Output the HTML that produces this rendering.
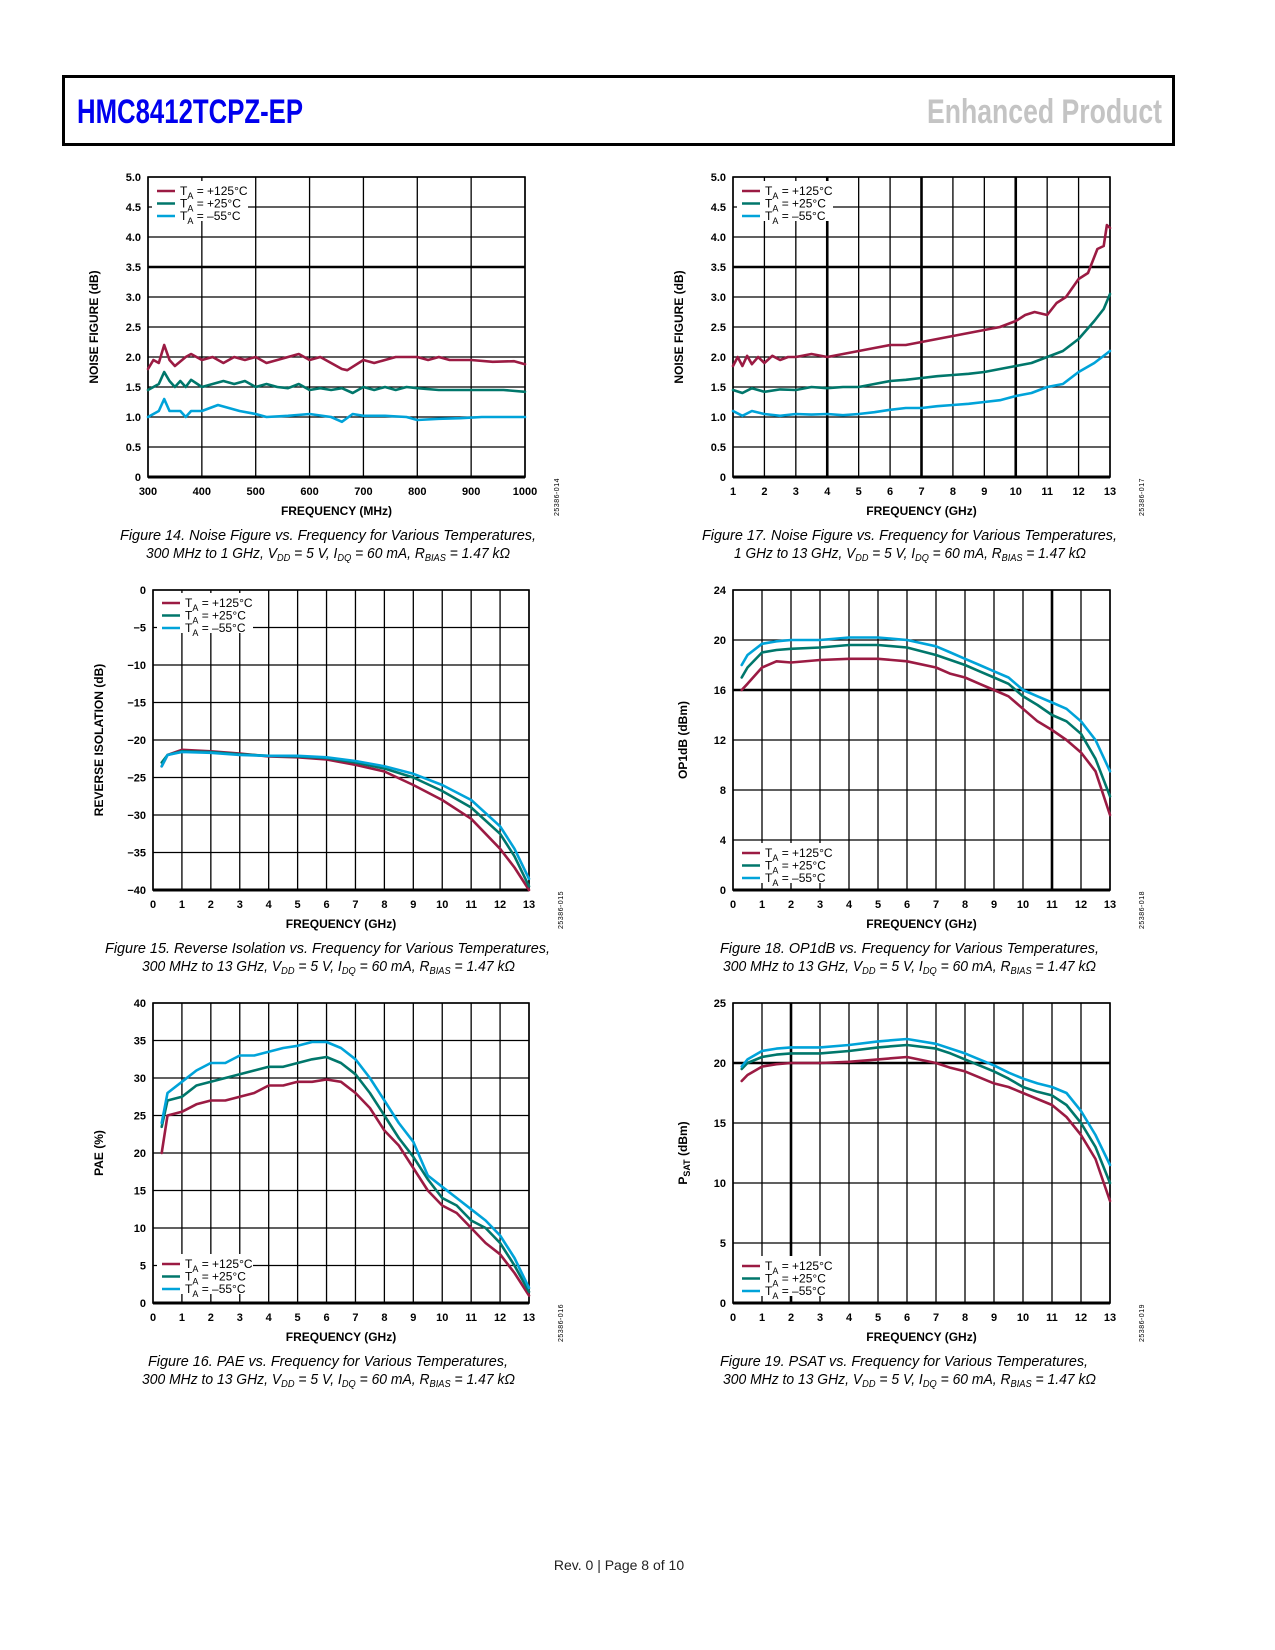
<!DOCTYPE html>
<html><head><meta charset="utf-8"><style>
html,body{margin:0;padding:0;background:#fff}
svg{display:block}
text{font-family:"Liberation Sans",sans-serif}
</style></head><body>
<svg id="page" width="1275" height="1650" viewBox="0 0 1275 1650" xmlns="http://www.w3.org/2000/svg">
<rect x="63.5" y="76.5" width="1110" height="68" fill="none" stroke="#000" stroke-width="3"/>
<text x="77" y="123" font-size="34" font-weight="bold" fill="#0000ee" textLength="226" lengthAdjust="spacingAndGlyphs">HMC8412TCPZ-EP</text>
<text x="927" y="123" font-size="34" font-weight="bold" fill="#c4c4c4" textLength="235" lengthAdjust="spacingAndGlyphs">Enhanced Product</text>
<text x="619" y="1570" font-size="14" text-anchor="middle" fill="#222">Rev. 0 | Page 8 of 10</text>
<g id="charts"></g>
</svg>
<script>
// ---- Fig 14: NF 300 MHz-1 GHz ----
const f14x_red=[300,310,320,330,340,350,370,380,400,420,440,460,480,500,520,540,560,580,600,620,640,660,670,700,720,740,760,800,820,840,860,900,940,980,1000];
const f14y_red=[1.8,1.95,1.9,2.2,1.95,1.85,2.0,2.05,1.95,2.0,1.9,2.0,1.95,2.0,1.9,1.95,2.0,2.05,1.95,2.0,1.9,1.8,1.78,1.95,1.9,1.95,2.0,2.0,1.95,2.0,1.95,1.95,1.92,1.93,1.88];
const f14x_teal=[300,320,330,340,350,360,370,380,400,420,440,460,480,500,520,540,560,580,600,620,640,660,680,700,720,740,760,780,800,840,880,920,960,1000];
const f14y_teal=[1.45,1.55,1.75,1.6,1.5,1.6,1.5,1.62,1.5,1.55,1.6,1.55,1.6,1.5,1.55,1.5,1.48,1.55,1.45,1.48,1.45,1.48,1.4,1.5,1.45,1.5,1.45,1.5,1.48,1.45,1.45,1.45,1.45,1.42];
const f14x_cyan=[300,320,330,340,360,370,380,400,430,450,470,500,520,560,600,640,660,680,700,740,780,800,840,880,920,960,1000];
const f14y_cyan=[1.0,1.1,1.3,1.1,1.1,1.0,1.1,1.1,1.2,1.15,1.1,1.05,1.0,1.02,1.05,1.0,0.92,1.05,1.02,1.02,1.0,0.95,0.97,0.98,1.0,1.0,1.0];
// ---- Fig 17: NF 1-13 GHz ----
const f17x_red=[1,1.15,1.3,1.45,1.6,1.8,2,2.25,2.5,2.75,3,3.5,4,4.5,5,5.5,6,6.5,7,7.5,8,8.5,9,9.5,10,10.3,10.6,11,11.3,11.6,12,12.3,12.6,12.8,12.9,13];
const f17y_red=[1.85,2.0,1.85,2.02,1.88,2.0,1.9,2.02,1.95,2.0,2.0,2.05,2.0,2.05,2.1,2.15,2.2,2.2,2.25,2.3,2.35,2.4,2.45,2.5,2.6,2.7,2.75,2.7,2.9,3.0,3.3,3.4,3.8,3.85,4.2,4.15];
const f17x_teal=[1,1.3,1.6,2,2.5,3,3.5,4,4.5,5,5.5,6,6.5,7,7.5,8,8.5,9,9.5,10,10.5,11,11.5,12,12.5,12.8,13];
const f17y_teal=[1.45,1.4,1.48,1.42,1.46,1.45,1.5,1.48,1.5,1.5,1.55,1.6,1.62,1.65,1.68,1.7,1.72,1.75,1.8,1.85,1.9,2.0,2.1,2.3,2.6,2.8,3.05];
const f17x_cyan=[1,1.3,1.6,2,2.5,3,3.5,4,4.5,5,5.5,6,6.5,7,7.5,8,8.5,9,9.5,10,10.5,11,11.5,12,12.5,13];
const f17y_cyan=[1.1,1.02,1.1,1.05,1.02,1.05,1.04,1.05,1.03,1.05,1.08,1.12,1.15,1.15,1.18,1.2,1.22,1.25,1.28,1.35,1.4,1.5,1.55,1.75,1.9,2.1];
// ---- Fig 15: reverse isolation ----
const f15x=[0.3,0.5,1,2,3,4,5,6,7,8,9,10,11,12,12.5,13];
const f15y_red=[-23.5,-22,-21.3,-21.5,-21.8,-22.2,-22.3,-22.6,-23.3,-24.2,-26,-28,-30.5,-34.5,-37,-40];
const f15y_teal=[-23,-22,-21.5,-21.6,-21.9,-22.1,-22.2,-22.4,-23,-23.8,-25,-26.8,-29,-32.5,-35.5,-39.5];
const f15y_cyan=[-23.5,-22,-21.6,-21.7,-22,-22.1,-22.1,-22.3,-22.8,-23.5,-24.5,-26,-28,-31.5,-34.5,-38.5];
// ---- Fig 16: PAE ----
const f16x=[0.3,0.5,1,1.5,2,2.5,3,3.5,4,4.5,5,5.5,6,6.5,7,7.5,8,8.5,9,9.5,10,10.5,11,11.5,12,12.5,13];
const f16y_red=[20,25,25.5,26.5,27,27,27.5,28,29,29,29.5,29.5,29.8,29.5,28,26,23,21,18,15,13,12,10,8,6.5,4,1];
const f16y_teal=[23.5,27,27.5,29,29.5,30,30.5,31,31.5,31.5,32,32.5,32.8,32,30.5,28,25,22,19.5,16.5,14,13,11,10,8,5,1.5];
const f16y_cyan=[24,28,29.5,31,32,32,33,33,33.5,34,34.3,34.8,34.8,34,32.5,30,27,24,21.5,17,15.5,14,12.5,11,9,6,2];
// ---- Fig 18: OP1dB ----
const f18x=[0.3,0.5,1,1.5,2,3,4,5,6,7,7.5,8,8.5,9,9.5,10,10.5,11,11.5,12,12.5,13];
const f18y_red=[16,16.5,17.8,18.3,18.2,18.4,18.5,18.5,18.3,17.8,17.3,17,16.5,16,15.5,14.5,13.5,12.8,12,11,9.5,6];
const f18y_teal=[17,17.8,19,19.2,19.3,19.4,19.6,19.6,19.4,18.8,18.4,18,17.5,17,16.5,15.5,14.8,14,13.5,12.5,10.5,7.5];
const f18y_cyan=[18,18.8,19.7,19.9,20,20,20.2,20.2,20,19.5,19,18.5,18,17.5,17,16,15.5,15,14.5,13.5,12,9.5];
// ---- Fig 19: PSAT ----
const f19x=[0.3,0.5,1,1.5,2,3,4,5,6,7,7.5,8,8.5,9,9.5,10,10.5,11,11.5,12,12.5,13];
const f19y_red=[18.5,19,19.7,19.9,20,20,20.1,20.3,20.5,20,19.6,19.3,18.8,18.3,18,17.5,17,16.5,15.5,14,12,8.5];
const f19y_teal=[19.5,20,20.5,20.7,20.8,20.8,21,21.3,21.5,21.2,20.8,20.3,19.8,19.3,18.7,18,17.6,17.3,16.5,15,13,10];
const f19y_cyan=[19.7,20.3,21,21.2,21.3,21.3,21.5,21.8,22,21.6,21.2,20.8,20.3,19.8,19.2,18.7,18.3,18,17.5,16,14,11.5];

const RED="#9b1b43",TEAL="#00776b",CYAN="#00a3d9";
const NS="http://www.w3.org/2000/svg";
const root=document.getElementById('charts');
function mk(tag,attrs,parent){const e=document.createElementNS(NS,tag);for(const k in attrs)e.setAttribute(k,attrs[k]);(parent||root).appendChild(e);return e;}

function chart(c){
  const g=mk('g',{});
  
  
  const sx=v=>c.L+(v-c.xmin)/(c.xmax-c.xmin)*(c.R-c.L);
  const sy=v=>c.B-(v-c.ymin)/(c.ymax-c.ymin)*(c.B-c.T);
  // grid
  c.xgrid.forEach(v=>{const l=mk('line',{x1:sx(v),x2:sx(v),y1:c.T,y2:c.B,stroke:'#000','stroke-width':c.thickX.includes(v)?2.6:1.3},g);
    });
  c.ygrid.forEach(v=>{const l=mk('line',{x1:c.L,x2:c.R,y1:sy(v),y2:sy(v),stroke:'#000','stroke-width':c.thickY.includes(v)?2.6:1.3},g);
    });
  const fr=mk('rect',{x:c.L,y:c.T,width:c.R-c.L,height:c.B-c.T,fill:'none',stroke:'#000','stroke-width':1.6},g);
  
  const bl=mk('line',{x1:c.L,x2:c.R,y1:c.B,y2:c.B,stroke:'#000','stroke-width':3},g);
  
  // ticks
  c.xticks.forEach((v,i)=>{const t=mk('text',{x:sx(v),y:c.B+18,'font-size':11,'font-weight':'bold','text-anchor':'middle'},g);t.textContent=c.xlabels[i];
    });
  c.yticks.forEach((v,i)=>{const t=mk('text',{x:c.L-7,y:sy(v)+4,'font-size':11,'font-weight':'bold','text-anchor':'end'},g);t.textContent=c.ylabels[i];
    });
  const xt=mk('text',{x:(c.L+c.R)/2,y:c.B+38,'font-size':12,'font-weight':'bold','text-anchor':'middle'},g);xt.textContent=c.xtitle;
  
  const yt=mk('text',{x:0,y:0,'font-size':12,'font-weight':'bold','text-anchor':'middle',transform:`translate(${c.ytx},${(c.T+c.B)/2}) rotate(-90)`},g);
  yt.innerHTML=c.ytitle;
  
  const id=mk('text',{x:0,y:0,'font-size':7,'text-anchor':'middle','letter-spacing':'0.5',transform:`translate(${c.R+34},${c.B+20}) rotate(-90)`},g);id.textContent=c.figid;
  
  // series
  const cols=[RED,TEAL,CYAN];
  c.series.forEach((s,k)=>{
    const d=s.x.map((v,i)=>(i?'L':'M')+sx(v).toFixed(1)+' '+sy(s.y[i]).toFixed(1)).join(' ');
    const p=mk('path',{d:d,fill:'none',stroke:cols[k],'stroke-width':2.6,'stroke-linejoin':'round','stroke-linecap':'round'},g);
    
    
  });
  // legend
  const lg=mk('g',{},g);
  
  if(c.legBg) mk('rect',{x:c.L+4,y:c.legY-10,width:96,height:40,fill:'#fff'},lg);
  const labs=['+125°C','+25°C','–55°C'];
  labs.forEach((lab,k)=>{
    const y=c.legY+k*12.5;
    const ln=mk('line',{x1:c.L+9,x2:c.L+27,y1:y,y2:y,stroke:cols[k],'stroke-width':2.6},lg);
    
    const t=mk('text',{x:c.L+32,y:y+4,'font-size':12},lg);
    t.innerHTML=`T<tspan font-size="9" dy="4">A</tspan><tspan dy="-4"> = ${lab}</tspan>`;
    
  });
  // caption
  const c1=mk('text',{x:c.cap1[0],y:c.capY,'font-size':15,'font-style':'italic',textLength:c.cap1[1],lengthAdjust:'spacingAndGlyphs'},g);
  c1.textContent=c.cap1[2];
  
  const c2=mk('text',{x:c.cap2[0],y:c.capY+18,'font-size':15,'font-style':'italic',textLength:c.cap2[1],lengthAdjust:'spacingAndGlyphs'},g);
  c2.innerHTML=c.cap2[2];
  
}
const sub=s=>`<tspan font-size="10" dy="3">${s}</tspan><tspan dy="-3">`;
const cond=a=>`${a}, V${sub('DD')} = 5 V, I</tspan>${sub('DQ')} = 60 mA, R</tspan>${sub('BIAS')} = 1.47 kΩ</tspan>`;
const r=(a,b,s)=>{const o=[];for(let v=a;v<=b+1e-9;v+=s)o.push(+v.toFixed(3));return o;};
const gh=r(0,13,1);

chart({name:'figure-14-noise-figure-low',L:148,R:525,T:177,B:477,xmin:300,xmax:1000,ymin:0,ymax:5,
  xgrid:r(300,1000,100),ygrid:r(0,5,0.5),thickX:[],thickY:[3.5,0],
  xticks:r(300,1000,100),xlabels:r(300,1000,100).map(String),yticks:r(0,5,0.5),ylabels:['0','0.5','1.0','1.5','2.0','2.5','3.0','3.5','4.0','4.5','5.0'],
  xtitle:'FREQUENCY (MHz)',ytitle:'NOISE FIGURE (dB)',ytx:98,figid:'25386-014',legY:191,legBg:true,
  series:[{x:f14x_red,y:f14y_red},{x:f14x_teal,y:f14y_teal},{x:f14x_cyan,y:f14y_cyan}],
  capY:540,cap1:[120,416,'Figure 14. Noise Figure vs. Frequency for Various Temperatures,'],cap2:[146,364,cond('300 MHz to 1 GHz')]});

chart({name:'figure-17-noise-figure-high',L:733,R:1110,T:177,B:477,xmin:1,xmax:13,ymin:0,ymax:5,
  xgrid:r(1,13,1),ygrid:r(0,5,0.5),thickX:[4,7,10],thickY:[3.5,0],
  xticks:r(1,13,1),xlabels:r(1,13,1).map(String),yticks:r(0,5,0.5),ylabels:['0','0.5','1.0','1.5','2.0','2.5','3.0','3.5','4.0','4.5','5.0'],
  xtitle:'FREQUENCY (GHz)',ytitle:'NOISE FIGURE (dB)',ytx:683,figid:'25386-017',legY:191,legBg:true,
  series:[{x:f17x_red,y:f17y_red},{x:f17x_teal,y:f17y_teal},{x:f17x_cyan,y:f17y_cyan}],
  capY:540,cap1:[702,415,'Figure 17. Noise Figure vs. Frequency for Various Temperatures,'],cap2:[734,352,cond('1 GHz to 13 GHz')]});

chart({name:'figure-15-reverse-isolation',L:153,R:529,T:590,B:890,xmin:0,xmax:13,ymin:-40,ymax:0,
  xgrid:gh,ygrid:r(-40,0,5),thickX:[],thickY:[-40],
  xticks:gh,xlabels:gh.map(String),yticks:r(-40,0,5),ylabels:['−40','−35','−30','−25','−20','−15','−10','−5','0'],
  xtitle:'FREQUENCY (GHz)',ytitle:'REVERSE ISOLATION (dB)',ytx:103,figid:'25386-015',legY:603,legBg:true,
  series:[{x:f15x,y:f15y_red},{x:f15x,y:f15y_teal},{x:f15x,y:f15y_cyan}],
  capY:953,cap1:[105,445,'Figure 15. Reverse Isolation vs. Frequency for Various Temperatures,'],cap2:[142,373,cond('300 MHz to 13 GHz')]});

chart({name:'figure-16-pae',L:153,R:529,T:1003,B:1303,xmin:0,xmax:13,ymin:0,ymax:40,
  xgrid:gh,ygrid:r(0,40,5),thickX:[],thickY:[0],
  xticks:gh,xlabels:gh.map(String),yticks:r(0,40,5),ylabels:r(0,40,5).map(String),
  xtitle:'FREQUENCY (GHz)',ytitle:'PAE (%)',ytx:103,figid:'25386-016',legY:1264,legBg:true,
  series:[{x:f16x,y:f16y_red},{x:f16x,y:f16y_teal},{x:f16x,y:f16y_cyan}],
  capY:1366,cap1:[148,360,'Figure 16. PAE vs. Frequency for Various Temperatures,'],cap2:[142,373,cond('300 MHz to 13 GHz')]});

chart({name:'figure-18-op1db',L:733,R:1110,T:590,B:890,xmin:0,xmax:13,ymin:0,ymax:24,
  xgrid:gh,ygrid:r(0,24,4),thickX:[11],thickY:[16,0],
  xticks:gh,xlabels:gh.map(String),yticks:r(0,24,4),ylabels:r(0,24,4).map(String),
  xtitle:'FREQUENCY (GHz)',ytitle:'OP1dB (dBm)',ytx:687,figid:'25386-018',legY:853,legBg:true,
  series:[{x:f18x,y:f18y_red},{x:f18x,y:f18y_teal},{x:f18x,y:f18y_cyan}],
  capY:953,cap1:[720,379,'Figure 18. OP1dB vs. Frequency for Various Temperatures,'],cap2:[723,373,cond('300 MHz to 13 GHz')]});

chart({name:'figure-19-psat',L:733,R:1110,T:1003,B:1303,xmin:0,xmax:13,ymin:0,ymax:25,
  xgrid:gh,ygrid:r(0,25,5),thickX:[2],thickY:[20,0],
  xticks:gh,xlabels:gh.map(String),yticks:r(0,25,5),ylabels:r(0,25,5).map(String),
  xtitle:'FREQUENCY (GHz)',ytitle:'P<tspan font-size="9" dy="3">SAT</tspan><tspan dy="-3"> (dBm)</tspan>',ytx:687,figid:'25386-019',legY:1266,legBg:true,
  series:[{x:f19x,y:f19y_red},{x:f19x,y:f19y_teal},{x:f19x,y:f19y_cyan}],
  capY:1366,cap1:[720,368,'Figure 19. PSAT vs. Frequency for Various Temperatures,'],cap2:[723,373,cond('300 MHz to 13 GHz')]});
</script>
</body></html>
